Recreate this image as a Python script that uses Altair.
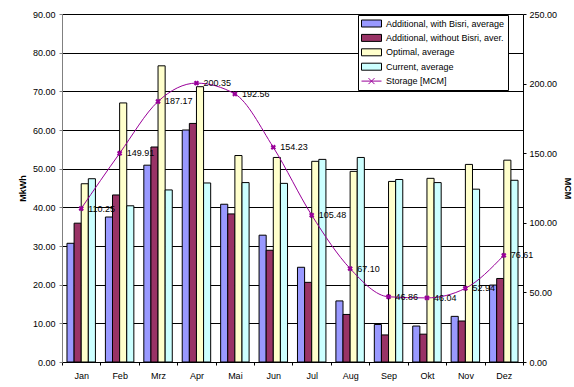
import altair as alt
import pandas as pd

months = ["Jan", "Feb", "Mrz", "Apr", "Mai", "Jun", "Jul", "Aug", "Sep", "Okt", "Nov", "Dez"]
series_names = [
    "Additional, with Bisri, average",
    "Additional, without Bisri, aver.",
    "Optimal, average",
    "Current, average",
]
storage_name = "Storage [MCM]"

with_bisri = [30.7, 37.5, 50.9, 60.0, 40.8, 32.8, 24.5, 15.8, 9.7, 9.3, 11.8, 19.9]
without_bisri = [35.9, 43.2, 55.6, 61.7, 38.3, 28.9, 20.6, 12.3, 7.0, 7.2, 10.6, 21.6]
optimal = [46.1, 67.0, 76.6, 71.2, 53.4, 52.9, 51.9, 49.3, 46.7, 47.5, 51.1, 52.2]
current = [47.4, 40.4, 44.5, 46.3, 46.4, 46.2, 52.4, 52.9, 47.2, 46.4, 44.7, 47.0]
storage = [110.25, 149.91, 187.17, 200.35, 192.56, 154.23, 105.48, 67.10, 46.86, 46.04, 52.94, 76.61]

bar_colors = ["#9999FF", "#993366", "#FFFFCC", "#CCFFFF"]
line_color = "#990099"
FONT = "Liberation Sans"

# long table for the grouped bars
rows = []
for name, vals in zip(series_names, [with_bisri, without_bisri, optimal, current]):
    for m, v in zip(months, vals):
        rows.append({"month": m, "series": name, "value": v})
bars_df = pd.DataFrame(rows)

storage_df = pd.DataFrame({
    "month": months,
    "storage": storage,
    "label": [f"{v:.2f}" for v in storage],
})

all_series = series_names + [storage_name]
legend_df = pd.DataFrame({"entry": all_series, "month": months[:5], "storage": storage[:5]})

x_enc = alt.X(
    "month:N", sort=months, title=None,
    scale=alt.Scale(paddingInner=0, paddingOuter=0),
    axis=alt.Axis(
        labelAngle=0, tickBand="extent", tickSize=3, labelPadding=6,
        labelFontSize=9, labelColor="black", domainColor="black",
        tickColor="black", grid=False,
    ),
)

bars = alt.Chart(bars_df).mark_bar(stroke="black", strokeWidth=1).encode(
    x=x_enc,
    xOffset=alt.XOffset(
        "series:N", sort=series_names,
        scale=alt.Scale(paddingInner=0, paddingOuter=0.7),
    ),
    y=alt.Y(
        "value:Q", title="MkWh",
        scale=alt.Scale(domain=[0, 90], nice=False),
        axis=alt.Axis(
            values=list(range(0, 91, 10)), format=".2f", orient="left",
            tickSize=3, labelPadding=4, labelFontSize=9, labelColor="black",
            domainColor="#808080", tickColor="#808080",
            gridColor="black", gridWidth=1,
            titleFontSize=9, titleFontWeight="bold", titleColor="black",
            titlePadding=5,
        ),
    ),
    fill=alt.Fill(
        "series:N",
        scale=alt.Scale(domain=series_names, range=bar_colors),
        legend=None,
    ),
)

y_right = alt.Y(
    "storage:Q", title="MCM",
    scale=alt.Scale(domain=[0, 250], nice=False),
    axis=alt.Axis(
        values=list(range(0, 251, 50)), format=".2f", orient="right",
        tickSize=3, labelPadding=3, labelFontSize=9, labelColor="black",
        domainColor="black", tickColor="black", grid=False,
        titleFontSize=9, titleFontWeight="bold", titleColor="black",
        titlePadding=6,
    ),
)

base = alt.Chart(storage_df)

line = base.mark_line(color=line_color, strokeWidth=1, interpolate="monotone").encode(
    x=x_enc, y=y_right,
)
markers = base.mark_point(
    shape="cross", angle=45, size=30, color=line_color, filled=True, opacity=1,
).encode(x=x_enc, y=y_right)
labels = base.mark_text(
    align="left", baseline="middle", dx=7, fontSize=9, color="black", font=FONT,
).encode(x=x_enc, y=y_right, text="label:N")

# legend: wide boxes for the bar series, a line with an x for the storage
rect_path = "M-2,-0.7H2V0.7H-2Z"
line_path = "M-2,0H2M-0.6,-0.6L0.6,0.6M-0.6,0.6L0.6,-0.6"

legend_spec = alt.Legend(
    title=None, orient="none", legendX=296, legendY=1,
    strokeColor="black", fillColor="white", padding=3,
    labelFontSize=9, labelColor="black", labelFont=FONT,
    symbolSize=100, symbolStrokeWidth=1, symbolOffset=5, symbolOpacity=1,
    labelOffset=9, rowPadding=3.4, labelLimit=300,
)

legend_layer = alt.Chart(legend_df).mark_point(filled=True, opacity=1, strokeWidth=1).encode(
    x=x_enc, y=y_right,
    color=alt.Color(
        "entry:N",
        scale=alt.Scale(domain=all_series, range=bar_colors + ["transparent"]),
        legend=legend_spec,
    ),
    stroke=alt.Stroke(
        "entry:N",
        scale=alt.Scale(domain=all_series, range=["black"] * 4 + [line_color]),
        legend=legend_spec,
    ),
    shape=alt.Shape(
        "entry:N",
        scale=alt.Scale(domain=all_series, range=[rect_path] * 4 + [line_path]),
        legend=legend_spec,
    ),
).transform_filter("false")

right = alt.layer(line, markers, labels, legend_layer)

chart = alt.layer(bars, right).resolve_scale(y="independent").properties(
    width=461, height=348,
    autosize="none",
    padding={"left": 62, "top": 14, "right": 51, "bottom": 25},
    background="white",
).configure(font=FONT).configure_view(stroke=None)

chart.save("out.html", embed_options={"renderer": "svg", "actions": False})
